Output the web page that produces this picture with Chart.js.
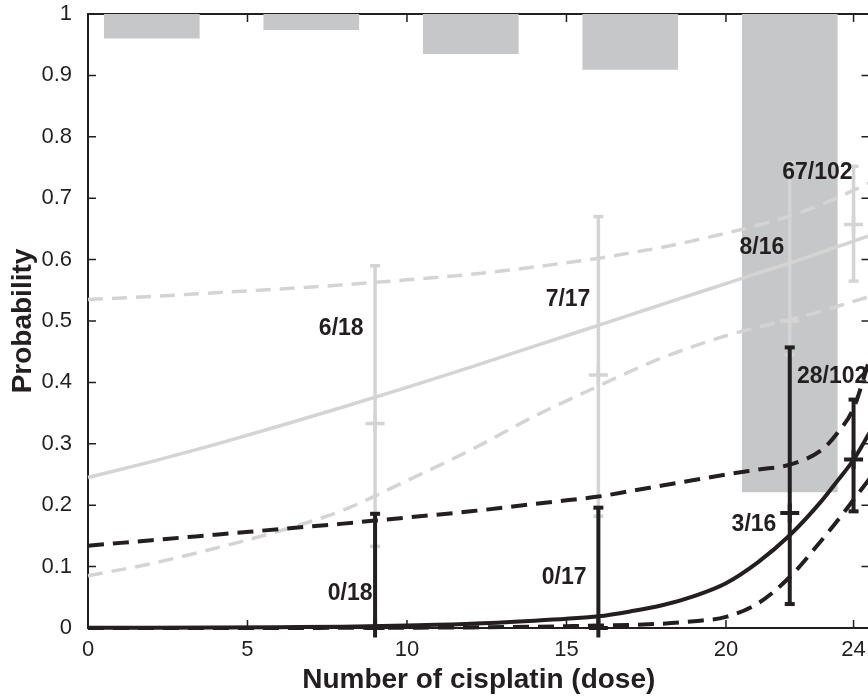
<!DOCTYPE html>
<html>
<head>
<meta charset="utf-8">
<script src="https://cdn.jsdelivr.net/npm/chart.js@4.4.1/dist/chart.umd.min.js"></script>
<style>
  html, body { margin: 0; padding: 0; background: #fff; overflow: hidden; }
  /* wider than the window: the right axis sits just past the visible edge */
  #wrap { width: 883px; height: 696px; }
</style>
</head>
<body>
<div id="wrap"><canvas id="chart"></canvas></div>
<script>
// axis ticks
const xTicks = [0, 5, 10, 15, 20, 24];
const yTicks = [0, 0.1, 0.2, 0.3, 0.4, 0.5, 0.6, 0.7, 0.8, 0.9, 1];

// grey bars hanging from the top (lower end given, they reach up to 1)
const barDoses = [2, 7, 12, 17, 22];
const barLows = [0.96, 0.974, 0.935, 0.909, 0.221];

const curveDoses = [0, 2, 4, 6, 8, 10, 12, 14, 15, 16, 17, 18, 19, 20, 21, 22, 23, 23.5, 24, 24.5];
const greyFit   = [0.245, 0.271, 0.299, 0.329, 0.360, 0.392, 0.425, 0.459, 0.476, 0.493, 0.510, 0.527, 0.544, 0.561, 0.578, 0.594, 0.612, 0.621, 0.630, 0.639];
const greyUpper = [0.535, 0.540, 0.546, 0.552, 0.559, 0.567, 0.576, 0.588, 0.595, 0.602, 0.611, 0.620, 0.631, 0.643, 0.656, 0.671, 0.690, 0.701, 0.713, 0.725];
const greyLower = [0.085, 0.105, 0.130, 0.158, 0.192, 0.240, 0.290, 0.345, 0.370, 0.394, 0.418, 0.440, 0.459, 0.476, 0.490, 0.502, 0.516, 0.524, 0.532, 0.540];
const blackFit   = [0.0003, 0.0005, 0.0008, 0.0013, 0.002, 0.004, 0.007, 0.012, 0.015, 0.019, 0.027, 0.037, 0.052, 0.073, 0.107, 0.151, 0.207, 0.240, 0.274, 0.318];
const blackUpper = [0.134, 0.143, 0.152, 0.161, 0.170, 0.180, 0.190, 0.202, 0.208, 0.214, 0.223, 0.232, 0.241, 0.250, 0.258, 0.266, 0.290, 0.318, 0.358, 0.437];
const blackLower = [0, 0, 0, 0, 0.0003, 0.0005, 0.001, 0.002, 0.003, 0.004, 0.005, 0.007, 0.011, 0.018, 0.040, 0.083, 0.143, 0.175, 0.209, 0.243];

// observed proportions with intervals
const greyDoses = [9, 16, 22, 24];
const greyObs   = [0.333, 0.412, 0.5, 0.657];
const greyLo    = [0.133, 0.182, 0.445, 0.565];
const greyHi    = [0.59, 0.67, 0.758, 0.752];
const blackDoses = [9, 16, 22, 24];
const blackObs   = [0, 0, 0.1875, 0.2745];
const blackLo    = [0, 0, 0.039, 0.19];
const blackHi    = [0.186, 0.196, 0.457, 0.372];

// count labels, right edge at labelX, centred on labelY
const labelText = ['6/18', '7/17', '8/16', '67/102', '0/18', '0/17', '3/16', '28/102'];
const labelX    = [8.64, 15.75, 21.83, 23.97, 8.92, 15.63, 21.58, 24.43];
const labelY    = [0.488, 0.535, 0.62, 0.742, 0.0555, 0.0816, 0.168, 0.409];

const GREY = '#d4d4d4';
const BLACK = '#231f20';
const BAR = '#c6c7c9';
const FONT = "'Liberation Sans', Arial, sans-serif";

const pts = (xs, ys) => xs.map((x, i) => ({ x: x, y: ys[i] }));

function curve(ys, color, width, dash, order) {
    return {
        type: 'line', data: pts(curveDoses, ys), borderColor: color, borderWidth: width,
        borderDash: dash, pointRadius: 0, cubicInterpolationMode: 'monotone',
        clip: false, order: order
    };
}

function errorBars(xs, lo, hi, obs, color, width, order) {
    const sets = xs.map((x, i) => ({
        type: 'line', data: [{ x: x, y: lo[i] }, { x: x, y: hi[i] }],
        borderColor: color, borderWidth: width, pointStyle: 'line', pointRadius: 5,
        pointBorderWidth: width, pointBorderColor: color, clip: false, order: order
    }));
    sets.push({
        type: 'line', data: pts(xs, obs), showLine: false, pointStyle: 'cross',
        pointRadius: 9.5, pointBorderWidth: width, pointBorderColor: color, clip: false, order: order
    });
    return sets;
}

const datasets = [
    {
        type: 'bar', data: barDoses.map((x, i) => ({ x: x, y: [barLows[i], 1] })),
        backgroundColor: BAR, borderWidth: 0, categoryPercentage: 1, barPercentage: 0.75, order: 10
    },
    curve(greyFit, GREY, 3.5, [], 8),
    curve(greyUpper, GREY, 3.5, [15, 9], 8),
    curve(greyLower, GREY, 3.5, [15, 9], 8),
    ...errorBars(greyDoses, greyLo, greyHi, greyObs, GREY, 3.5, 7),
    curve(blackFit, BLACK, 4, [], 5),
    curve(blackUpper, BLACK, 4, [16, 9], 5),
    curve(blackLower, BLACK, 4, [16, 9], 5),
    ...errorBars(blackDoses, blackLo, blackHi, blackObs, BLACK, 4, 4)
];

// box around the plot with inward tick marks
const boxPlugin = {
    id: 'box',
    beforeDatasetsDraw(chart) {
        const { ctx, chartArea: a, scales: { x, y } } = chart;
        ctx.save();
        ctx.strokeStyle = BLACK;
        ctx.lineWidth = 1.5;
        ctx.beginPath();
        xTicks.forEach(v => {
            const px = x.getPixelForValue(v);
            ctx.moveTo(px, a.bottom); ctx.lineTo(px, a.bottom - 8);
            ctx.moveTo(px, a.top); ctx.lineTo(px, a.top + 8);
        });
        yTicks.forEach(v => {
            const py = y.getPixelForValue(v);
            ctx.moveTo(a.left, py); ctx.lineTo(a.left + 8, py);
            ctx.moveTo(a.right, py); ctx.lineTo(a.right - 8, py);
        });
        ctx.stroke();
        ctx.lineWidth = 2;
        ctx.strokeRect(a.left, a.top, a.right - a.left, a.bottom - a.top);
        ctx.restore();
    }
};

const textPlugin = {
    id: 'texts',
    afterDraw(chart) {
        const { ctx, chartArea: a, scales: { x, y } } = chart;
        ctx.save();
        ctx.fillStyle = BLACK;
        ctx.font = 'bold 23px ' + FONT;
        ctx.textAlign = 'right';
        ctx.textBaseline = 'middle';
        labelText.forEach((t, i) => {
            ctx.fillText(t, x.getPixelForValue(labelX[i]), y.getPixelForValue(labelY[i]));
        });
        ctx.font = 'bold 28px ' + FONT;
        ctx.textAlign = 'center';
        ctx.textBaseline = 'alphabetic';
        ctx.fillText('Number of cisplatin (dose)', (a.left + a.right) / 2, 688);
        ctx.translate(31, (a.top + a.bottom) / 2);
        ctx.rotate(-Math.PI / 2);
        ctx.fillText('Probability', 0, 0);
        ctx.restore();
    }
};

new Chart(document.getElementById('chart'), {
    type: 'bar',
    data: { datasets: datasets },
    plugins: [boxPlugin, textPlugin],
    options: {
        responsive: true,
        maintainAspectRatio: false,
        animation: false,
        events: [],
        layout: { padding: { top: 14, right: 2, left: 0, bottom: 0 } },
        plugins: { legend: { display: false }, tooltip: { enabled: false } },
        scales: {
            x: {
                type: 'linear', min: 0, max: 24.5, offset: false,
                grid: { display: false }, border: { display: false },
                afterBuildTicks: s => { s.ticks = xTicks.map(v => ({ value: v })); },
                afterFit: s => { s.height = 68; s.paddingLeft = 0; s.paddingRight = 0; },
                ticks: { font: { family: FONT, size: 22 }, color: BLACK, padding: 1, maxRotation: 0, autoSkip: false }
            },
            y: {
                type: 'linear', min: 0, max: 1,
                grid: { display: false }, border: { display: false },
                afterBuildTicks: s => { s.ticks = yTicks.map(v => ({ value: v })); },
                afterFit: s => { s.width = 88; s.paddingTop = 0; s.paddingBottom = 0; },
                ticks: {
                    font: { family: FONT, size: 22 }, color: BLACK, padding: 8,
                    callback: v => (v === 0 || v === 1) ? String(v) : v.toFixed(1)
                }
            }
        }
    }
});
</script>
</body>
</html>
